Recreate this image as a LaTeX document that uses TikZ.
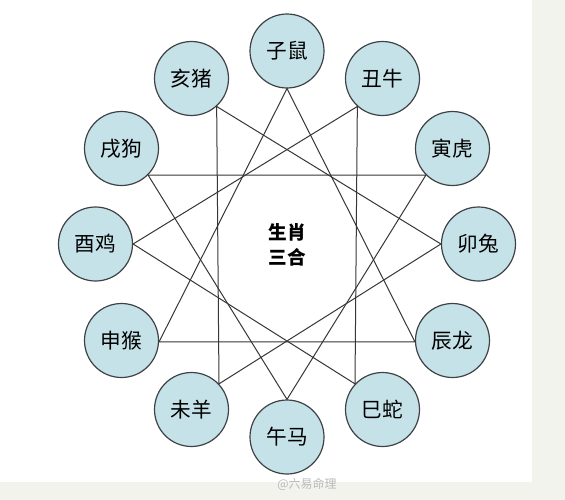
\documentclass[tikz,border=0pt]{standalone}
\usepackage{fontspec}
\usepackage{xcolor}
\usepackage{tikz}
\newfontfamily\cjk{Noto Sans CJK SC}
\definecolor{ballblue}{RGB}{198,226,233}
\definecolor{ringgray}{RGB}{62,66,68}
\definecolor{pagebeige}{RGB}{243,243,238}

\begin{document}
\begin{tikzpicture}[x=0.75pt,y=0.75pt,yscale=-1,xscale=1,
  animal/.style={circle,draw=ringgray,line width=0.9pt,fill=ballblue,minimum size=55.5pt,inner sep=0pt,font=\cjk\fontsize{15.5}{18}\selectfont},
  trine/.style={draw={rgb, 255:red, 55; green, 55; blue, 55},line width=0.75pt}]

\fill[pagebeige] (0,0) rectangle (565,500);
\fill[white] (0,0) rectangle (532,482);
\useasboundingbox (0,0) rectangle (565,500);

% twelve animals round the ring
\node[animal] (zi)   at (287,51)    {子鼠};
\node[animal] (chou) at (382.5,78.5)  {丑牛};
\node[animal] (yin)  at (452.5,148.5) {寅虎};
\node[animal] (mao)  at (478.5,244)   {卯兔};
\node[animal] (chen) at (452.5,340.5) {辰龙};
\node[animal] (si)   at (382.5,409.5) {巳蛇};
\node[animal] (wu)   at (287,437)     {午马};
\node[animal] (wei)  at (191.5,409.5) {未羊};
\node[animal] (shen) at (121.5,340.5) {申猴};
\node[animal] (you)  at (95.5,244)    {酉鸡};
\node[animal] (xu)   at (121.5,148.5) {戌狗};
\node[animal] (hai)  at (191.5,78.5)  {亥猪};

\node[font=\cjk\bfseries\fontsize{14}{19}\selectfont,align=center] (title) at (287,245) {生肖\\三合};

% the four san he triangles
\draw[trine] (shen.358) -- (zi.270) -- (chen.182) -- cycle;
\draw[trine] (hai.312) -- (mao.180) -- (wei.43) -- cycle;
\draw[trine] (yin.225) -- (wu.90) -- (xu.315) -- cycle;
\draw[trine] (si.137) -- (you.0) -- (chou.228) -- cycle;

\node[font=\cjk\fontsize{9}{11}\selectfont,text=gray!55] (mark) at (307,484) {@六易命理};

\end{tikzpicture}
\end{document}
